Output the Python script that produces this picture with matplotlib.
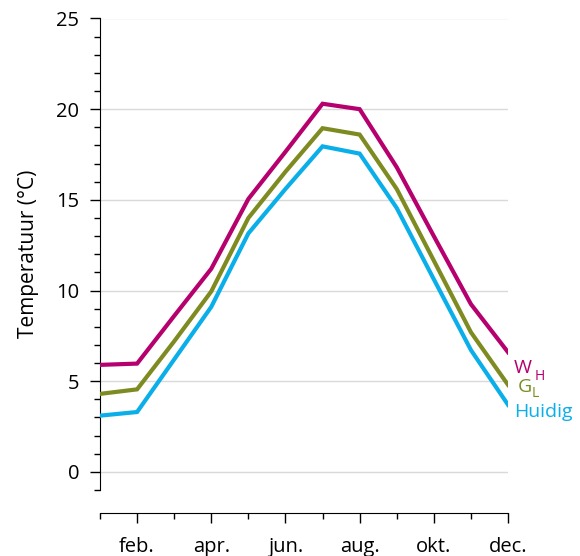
import matplotlib
matplotlib.use("Agg")
import matplotlib.pyplot as plt
from matplotlib.ticker import MultipleLocator, FixedLocator

plt.rcParams['font.family'] = ['Open Sans', 'DejaVu Sans']

months = list(range(1, 13))
month_labels = ["feb.", "apr.", "jun.", "aug.", "okt.", "dec."]
major_months = [2, 4, 6, 8, 10, 12]

w_h = [5.9, 5.97, 8.6, 11.2, 15.05, 17.65, 20.3, 20.0, 16.8, 13.0, 9.25, 6.6]
g_l = [4.3, 4.55, 7.2, 9.95, 14.0, 16.55, 18.95, 18.6, 15.6, 11.65, 7.7, 4.8]
huidig = [3.1, 3.3, 6.2, 9.1, 13.15, 15.6, 17.95, 17.55, 14.55, 10.62, 6.72, 3.7]

c_w = '#B5006E'
c_g = '#7D8B21'
c_h = '#0AAFEA'

fig = plt.figure(figsize=(5.8, 5.56), dpi=100)
ax = fig.add_axes([100/580, 1 - 490/556, 408/580, (490 - 18.5)/556])

for yv in [0, 5, 10, 15, 20, 25]:
    ax.axhline(yv, color='#d9d9d9', lw=1.0, zorder=0)

ax.plot(months, w_h, color=c_w, lw=3, solid_joinstyle='miter', zorder=3)
ax.plot(months, g_l, color=c_g, lw=3, solid_joinstyle='miter', zorder=3)
ax.plot(months, huidig, color=c_h, lw=3, solid_joinstyle='miter', zorder=3)

ax.set_xlim(1, 12)
ax.set_ylim(-1, 25)

ax.spines['top'].set_visible(False)
ax.spines['right'].set_visible(False)
ax.spines['bottom'].set_position(('outward', 16.5))
ax.spines['left'].set_bounds(-1, 25)

ax.yaxis.set_major_locator(MultipleLocator(5))
ax.yaxis.set_minor_locator(MultipleLocator(1))
ax.xaxis.set_major_locator(FixedLocator(major_months))
ax.xaxis.set_minor_locator(FixedLocator([1, 3, 5, 7, 9, 11]))
ax.set_xticklabels(month_labels)

ax.tick_params(axis='y', which='major', length=7.5, width=1, pad=7.5, labelsize=14.5)
ax.tick_params(axis='y', which='minor', length=4, width=1)
ax.tick_params(axis='x', which='major', length=7.5, width=1, pad=10, labelsize=14.5)
ax.tick_params(axis='x', which='minor', length=4, width=1)

ax.set_ylabel("Temperatuur (°C)", fontsize=15, labelpad=12)

def lab(text, series, color, dx, dy, size):
    ax.annotate(text, xy=(12, series[-1]), xytext=(dx, dy),
                textcoords='offset pixels', color=color, fontsize=size,
                ha='left', va='baseline', annotation_clip=False)

lab("W", w_h, c_w, 6, -20.5, 14)
lab("H", w_h, c_w, 27, -27.5, 10)
lab("G", g_l, c_g, 10, -7, 14)
lab("L", g_l, c_g, 24, -12.5, 10)
lab("Huidig", huidig, c_h, 6, -12, 14)

fig.savefig("out.png", dpi=100)
